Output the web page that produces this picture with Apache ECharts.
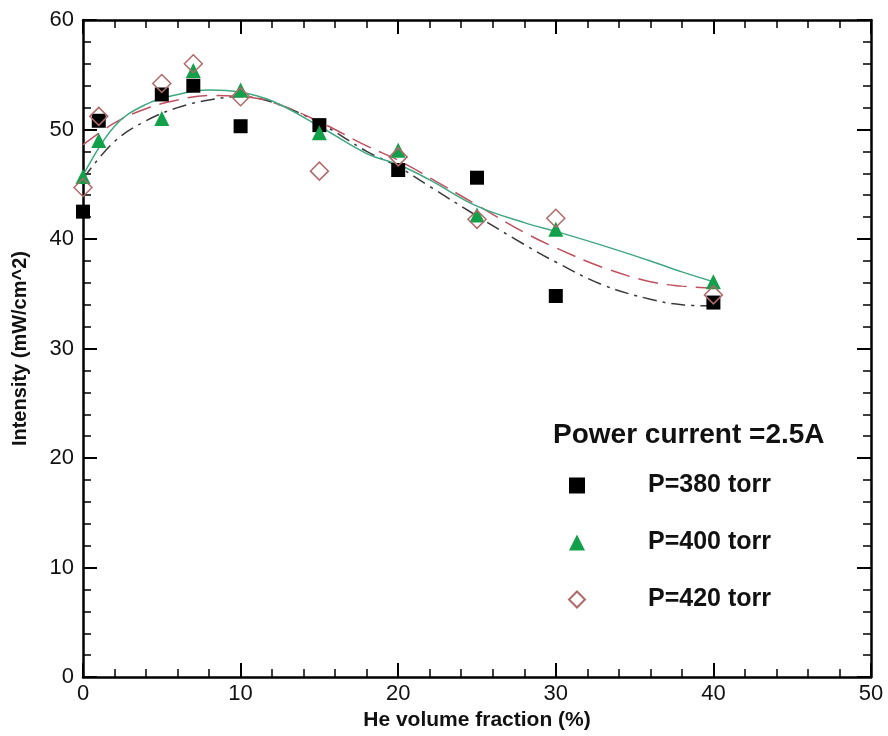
<!DOCTYPE html>
<html>
<head>
<meta charset="utf-8">
<script src="https://cdn.jsdelivr.net/npm/echarts@6/dist/echarts.min.js"></script>
<style>
  html, body { margin: 0; padding: 0; background: #fff; }
  #chart { width: 888px; height: 736px; }
</style>
</head>
<body>
<div id="chart"></div>
<script>
// Measured He volume fractions (%)
const heFraction = [0, 1, 5, 7, 10, 15, 20, 25, 30, 40];

// Measured intensity (mW/cm^2) at each pressure
const p380 = [42.5, 50.8, 53.2, 54.0, 50.3, 50.4, 46.3, 45.6, 34.8, 34.2];
const p400 = [45.7, 49.0, 51.0, 55.4, 53.6, 49.7, 48.1, 42.2, 40.9, 36.1];
const p420 = [44.7, 51.2, 54.2, 56.0, 53.0, 46.2, 47.5, 41.8, 41.9, 34.9];

// Fitted trend curves, sampled along the x range
const fitX = [0, 2, 4, 6, 8, 10, 12, 15, 18, 20, 22, 25, 28, 30, 33, 36, 38, 40];
const fit380 = [45.5, 48.9, 50.8, 52.0, 52.7, 53.0, 52.5, 50.6, 48.0, 46.6, 44.8, 42.1, 39.5, 37.9, 35.8, 34.5, 34.0, 33.9];
const fit400 = [45.8, 50.3, 52.3, 53.2, 53.6, 53.4, 52.6, 50.3, 47.8, 46.8, 45.4, 43.0, 41.5, 40.7, 39.4, 38.0, 37.0, 36.1];
const fit420 = [48.6, 50.6, 51.9, 52.7, 53.1, 53.0, 52.5, 50.7, 48.5, 47.2, 45.6, 43.1, 40.6, 39.2, 37.4, 36.1, 35.7, 35.5];

const seriesNames = ['P=380 torr', 'P=400 torr', 'P=420 torr'];
const xTicks = { min: 0, max: 50, interval: 10 };
const yTicks = { min: 0, max: 60, interval: 10 };

const pairs = (xs, ys) => xs.map((x, i) => [x, ys[i]]);
const FONT = '"Liberation Sans", Arial, sans-serif';

function frameAxis(extra) {
  return Object.assign({
    type: 'value',
    axisLine: { show: true, onZero: false, lineStyle: { color: '#000', width: 2.5 } },
    axisTick: { show: true, inside: true, length: 14, lineStyle: { color: '#000', width: 2 } },
    minorTick: { show: true, splitNumber: 5, length: 8, lineStyle: { color: '#000', width: 1.5 } },
    splitLine: { show: false },
    minorSplitLine: { show: false }
  }, extra);
}

const chart = echarts.init(document.getElementById('chart'), null, { renderer: 'canvas' });

chart.setOption({
  backgroundColor: '#fff',
  animation: false,
  grid: { left: 83, top: 20, right: 17, bottom: 58, containLabel: false },
  xAxis: [
    frameAxis({
      position: 'bottom', min: xTicks.min, max: xTicks.max, interval: xTicks.interval,
      name: 'He volume fraction (%)', nameLocation: 'middle', nameGap: 29,
      nameTextStyle: { fontFamily: FONT, fontWeight: 'bold', fontSize: 21, color: '#111' },
      axisLabel: { fontFamily: FONT, fontSize: 22, color: '#111', margin: 6 }
    }),
    frameAxis({
      position: 'top', min: xTicks.min, max: xTicks.max, interval: xTicks.interval,
      axisLabel: { show: false }
    })
  ],
  yAxis: [
    frameAxis({
      position: 'left', min: yTicks.min, max: yTicks.max, interval: yTicks.interval,
      name: 'Intensity (mW/cm^2)', nameLocation: 'middle', nameGap: 53,
      nameTextStyle: { fontFamily: FONT, fontWeight: 'bold', fontSize: 20, color: '#111' },
      axisLabel: { fontFamily: FONT, fontSize: 22, color: '#111', margin: 9 }
    }),
    frameAxis({
      position: 'right', min: yTicks.min, max: yTicks.max, interval: yTicks.interval,
      axisLabel: { show: false }
    })
  ],
  legend: {
    orient: 'vertical',
    left: 563, top: 468,
    itemWidth: 16, itemHeight: 16, itemGap: 32,
    data: seriesNames,
    textStyle: { fontFamily: FONT, fontWeight: 'bold', fontSize: 25, color: '#111', padding: [0, 0, 0, 58] }
  },
  graphic: [{
    type: 'text', left: 553, top: 421,
    style: { text: 'Power current =2.5A', font: 'bold 28px ' + FONT, fill: '#111' }
  }],
  series: [
    {
      name: 'fit380', type: 'line', data: pairs(fitX, fit380), smooth: 0.4, showSymbol: false, z: 1,
      lineStyle: { color: '#3a3a3a', width: 1.5, type: [14, 6, 3, 6] }
    },
    {
      name: 'fit420', type: 'line', data: pairs(fitX, fit420), smooth: 0.4, showSymbol: false, z: 1,
      lineStyle: { color: '#c0505e', width: 1.5, type: [20, 9] }
    },
    {
      name: 'fit400', type: 'line', data: pairs(fitX, fit400), smooth: 0.4, showSymbol: false, z: 1,
      lineStyle: { color: '#3fa880', width: 1.5 }
    },
    {
      name: seriesNames[0], type: 'scatter', data: pairs(heFraction, p380), z: 3,
      symbol: 'rect', symbolSize: 14,
      itemStyle: { color: '#000', opacity: 1 }
    },
    {
      name: seriesNames[1], type: 'scatter', data: pairs(heFraction, p400), z: 4,
      symbol: 'triangle', symbolSize: 15,
      itemStyle: { color: '#12a04a', opacity: 1 }
    },
    {
      name: seriesNames[2], type: 'scatter', data: pairs(heFraction, p420), z: 5,
      symbol: 'diamond', symbolSize: [18, 18],
      itemStyle: { color: 'rgba(255,255,255,0)', borderColor: '#b06a6a', borderWidth: 1.5, opacity: 1 }
    }
  ]
});
</script>
</body>
</html>
